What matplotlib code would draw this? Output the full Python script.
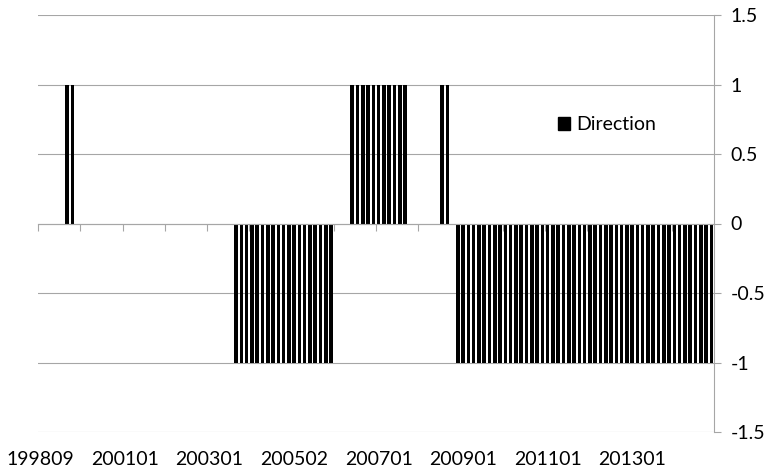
import matplotlib
matplotlib.use("Agg")
import matplotlib.pyplot as plt
from matplotlib.patches import Patch
from matplotlib.ticker import FixedLocator, FuncFormatter

plt.rcParams['font.family'] = ['Lato', 'DejaVu Sans']
plt.rcParams['axes.unicode_minus'] = False

# one value per period (128 periods)
direction = [
    0, 0, 0, 0, 0, 1, 1, 0, 0, 0, 0, 0, 0, 0, 0, 0,
    0, 0, 0, 0, 0, 0, 0, 0, 0, 0, 0, 0, 0, 0, 0, 0,
    0, 0, 0, 0, 0, -1, -1, -1, -1, -1, -1, -1, -1, -1, -1, -1,
    -1, -1, -1, -1, -1, -1, -1, -1, 0, 0, 0, 1, 1, 1, 1, 1,
    1, 1, 1, 1, 1, 1, 0, 0, 0, 0, 0, 0, 1, 1, 0, -1,
    -1, -1, -1, -1, -1, -1, -1, -1, -1, -1, -1, -1, -1, -1, -1, -1,
    -1, -1, -1, -1, -1, -1, -1, -1, -1, -1, -1, -1, -1, -1, -1, -1,
    -1, -1, -1, -1, -1, -1, -1, -1, -1, -1, -1, -1, -1, -1, -1, -1,
]
tick_labels = ['199809', '200101', '200301', '200502',
               '200701', '200901', '201101', '201301']
y_ticks = [-1.5, -1, -0.5, 0, 0.5, 1, 1.5]
series_name = 'Direction'

label_step = 16
tick_step = 8
grid_color = '#a6a6a6'
fsize = 14

fig = plt.figure(figsize=(7.7, 4.7), dpi=100)
ax = fig.add_axes([38 / 770, 1 - 432 / 470, 676 / 770, 417 / 470])

x = list(range(len(direction)))
ax.bar(x, direction, width=0.68, color='black', zorder=3)

ax.set_xlim(-0.5, len(direction) - 0.5)
ax.set_ylim(-1.5, 1.5)

# y axis on the right
ax.yaxis.tick_right()
ax.yaxis.set_major_locator(FixedLocator(y_ticks))
ax.yaxis.set_major_formatter(FuncFormatter(lambda v, p: f'{v:g}'))
ax.tick_params(axis='y', direction='out', length=5, width=0.8, color=grid_color,
               pad=7, labelsize=fsize, labelcolor='black')
for lab in ax.get_yticklabels():
    lab.set_horizontalalignment('left')
ax.grid(axis='y', color=grid_color, linewidth=0.8, zorder=0)

for side in ['left', 'top']:
    ax.spines[side].set_visible(False)
ax.spines['right'].set_color(grid_color)
ax.spines['right'].set_linewidth(0.8)

# category axis sits at zero, tick marks between categories
ax.spines['bottom'].set_position(('data', 0))
ax.spines['bottom'].set_color(grid_color)
ax.spines['bottom'].set_linewidth(0.8)
ax.spines['bottom'].set_zorder(4)
ax.set_xticks([i - 0.5 for i in range(0, len(direction), tick_step)])
ax.tick_params(axis='x', direction='out', length=5, width=0.8, color=grid_color,
               labelbottom=False)

for i, lab in enumerate(tick_labels):
    ax.text(i * label_step, -0.045, lab, transform=ax.get_xaxis_transform(),
            ha='center', va='top', fontsize=fsize)

handle = Patch(facecolor='black', edgecolor='black')
fig.legend([handle], [series_name], loc='center left',
           bbox_to_anchor=(548 / 770, 1 - 125 / 470), frameon=False,
           borderpad=0, handlelength=0.65, handleheight=0.65,
           handletextpad=0.3, fontsize=fsize)

fig.savefig('out.png', dpi=100)
